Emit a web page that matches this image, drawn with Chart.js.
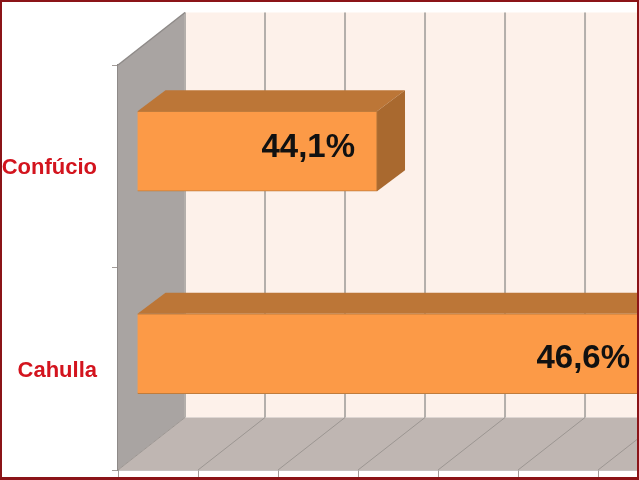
<!DOCTYPE html>
<html>
<head>
<meta charset="utf-8">
<script src="https://cdn.jsdelivr.net/npm/chart.js@4"></script>
<style>
html,body{margin:0;padding:0;background:#fff;overflow:hidden}
canvas{display:block;filter:blur(0.45px)}
</style>
</head>
<body>
<canvas id="c" width="639" height="480" style="width:639px;height:480px"></canvas>
<script>
const categories = ['Confúcio', 'Cahulla'];
const seriesValues = [44.1, 46.6];
const axisTicks = [42.6, 43.1, 43.6, 44.1, 44.6, 45.1, 45.6];
const axisMin = 42.6;
const axisMax = 45.856;

const wall = {dx: 67, dy: -52.5};
const barDepth = {dx: 19, dy: -15};
const barTop = {dx: 28, dy: -21};

function poly(ctx, pts, fill, stroke, lw) {
  ctx.beginPath();
  pts.forEach((p, i) => i ? ctx.lineTo(p[0], p[1]) : ctx.moveTo(p[0], p[1]));
  ctx.closePath();
  if (fill) { ctx.fillStyle = fill; ctx.fill(); }
  if (stroke) { ctx.strokeStyle = stroke; ctx.lineWidth = lw || 1; ctx.stroke(); }
}

const scene = {
  id: 'scene',
  beforeDatasetsDraw(chart) {
    const {ctx, chartArea: a, scales} = chart;
    const L = a.left, T = a.top, B = a.bottom;
    ctx.save();
    poly(ctx, [[L + wall.dx, T + wall.dy], [639, T + wall.dy], [639, B + wall.dy], [L + wall.dx, B + wall.dy]], '#FDF1EA');
    poly(ctx, [[L, T], [L + wall.dx, T + wall.dy], [L + wall.dx, B + wall.dy], [L, B]], '#A9A4A2');
    poly(ctx, [[L, B], [L + wall.dx, B + wall.dy], [639, B + wall.dy], [639, B]], '#BFB6B2');
    axisTicks.forEach(v => {
      const x = scales.x.getPixelForValue(v);
      ctx.strokeStyle = '#B4AFAB';
      ctx.lineWidth = 2;
      ctx.beginPath();
      ctx.moveTo(x + wall.dx, T + wall.dy);
      ctx.lineTo(x + wall.dx, B + wall.dy);
      ctx.stroke();
      ctx.strokeStyle = '#9C9692';
      ctx.lineWidth = 1;
      ctx.beginPath();
      ctx.moveTo(x, B);
      ctx.lineTo(x + wall.dx, B + wall.dy);
      ctx.stroke();
    });
    ctx.strokeStyle = '#8E8A88';
    ctx.lineWidth = 1.5;
    ctx.beginPath();
    ctx.moveTo(L, T);
    ctx.lineTo(L + wall.dx, T + wall.dy);
    ctx.stroke();
    ctx.restore();

    // bars stand part-way into the depth of the box
    ctx.save();
    ctx.translate(barDepth.dx, barDepth.dy);
    chart.getDatasetMeta(0).data.forEach(bar => {
      const h = bar.height / 2, x0 = bar.base, x1 = bar.x, y = bar.y;
      poly(ctx, [[x0, y - h], [x0 + barTop.dx, y - h + barTop.dy], [x1 + barTop.dx, y - h + barTop.dy], [x1, y - h]], '#BC7637');
      poly(ctx, [[x1, y - h], [x1 + barTop.dx, y - h + barTop.dy], [x1 + barTop.dx, y + h + barTop.dy], [x1, y + h]], '#A9692F');
    });
  },
  afterDatasetsDraw(chart) {
    const {ctx} = chart;
    ctx.restore();
    ctx.save();
    ctx.font = 'bold 33px "Liberation Sans", Arial, sans-serif';
    ctx.fillStyle = '#111';
    ctx.textAlign = 'right';
    ctx.textBaseline = 'middle';
    chart.getDatasetMeta(0).data.forEach((bar, i) => {
      const txt = seriesValues[i].toFixed(1).replace('.', ',') + '%';
      const x = Math.min(bar.x + barDepth.dx - 22, 630);
      ctx.fillText(txt, x, bar.y + barDepth.dy + (i === 0 ? -4 : 4) + 1);
    });
    ctx.restore();
  },
  afterDraw(chart) {
    const {ctx} = chart;
    ctx.save();
    ctx.fillStyle = '#8B1418';
    ctx.fillRect(0, 0, 639, 2);
    ctx.fillRect(0, 0, 2, 480);
    ctx.fillRect(637, 0, 2, 480);
    ctx.fillRect(0, 477, 639, 3);
    ctx.restore();
  }
};

new Chart(document.getElementById('c'), {
  type: 'bar',
  data: {
    labels: categories,
    datasets: [{
      data: seriesValues,
      base: axisMin,
      backgroundColor: '#FC9A47',
      borderColor: '#C07C3C',
      borderWidth: 1,
      barThickness: 80,
      clip: false
    }]
  },
  options: {
    indexAxis: 'y',
    responsive: false,
    animation: false,
    layout: {padding: {top: 65, right: 0, bottom: 3, left: 0}},
    plugins: {legend: {display: false}, tooltip: {enabled: false}, title: {display: false}},
    scales: {
      x: {
        min: axisMin,
        max: axisMax,
        afterBuildTicks(s) { s.ticks = axisTicks.map(v => ({value: v})); },
        afterFit(s) { s.height = 7; },
        grid: {drawOnChartArea: false, drawTicks: true, tickLength: 7, color: '#A29C99'},
        border: {color: '#8E8A88', width: 1.5},
        ticks: {display: false}
      },
      y: {
        afterFit(s) {
          s.width = 118; s.paddingTop = 0; s.paddingBottom = 0;
          if (!s._shifted) {
            s._shifted = true;
            const orig = s._computeLabelItems.bind(s);
            s._computeLabelItems = ca => orig(ca).map(it => {
              it.options.translation = [it.options.translation[0], it.options.translation[1] + 2];
              return it;
            });
          }
        },
        grid: {drawOnChartArea: false, drawTicks: true, tickLength: 6, color: '#A29C99'},
        border: {color: '#8E8A88', width: 1.5},
        ticks: {
          padding: 15,
          color: '#D3141E',
          font: {family: '"Liberation Sans", Arial, sans-serif', weight: 'bold', size: 22}
        }
      }
    }
  },
  plugins: [scene]
});
</script>
</body>
</html>
